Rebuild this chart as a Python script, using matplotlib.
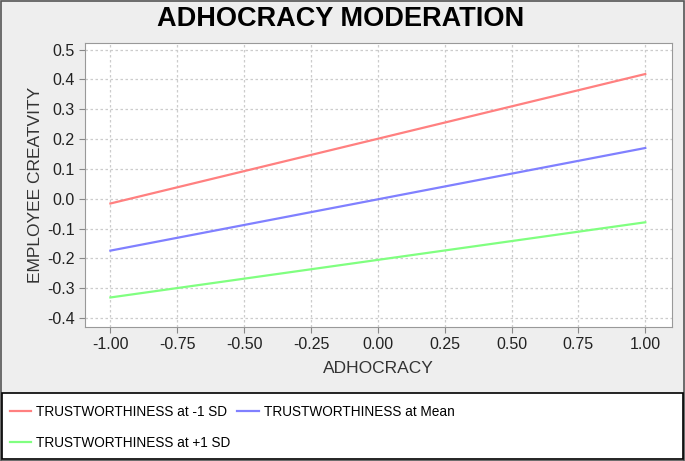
import matplotlib
matplotlib.use('Agg')
import matplotlib.pyplot as plt
from matplotlib.patches import Rectangle

plt.rcParams['font.family'] = ['Liberation Sans', 'DejaVu Sans']

# data
adhocracy = [-1.0, 1.0]
trust_low = [-0.016, 0.418]
trust_mean = [-0.174, 0.170]
trust_high = [-0.331, -0.079]
series_names = ['TRUSTWORTHINESS at -1 SD', 'TRUSTWORTHINESS at Mean',
                'TRUSTWORTHINESS at +1 SD']
series_colors = ['#FF8080', '#8080FF', '#80FF80']
x_ticks = [-1.0, -0.75, -0.5, -0.25, 0.0, 0.25, 0.5, 0.75, 1.0]
y_ticks = [-0.4, -0.3, -0.2, -0.1, 0.0, 0.1, 0.2, 0.3, 0.4, 0.5]

W, H = 685, 461
fig = plt.figure(figsize=(W / 100, H / 100), dpi=100, facecolor='#EEEEEE')

# outer frame and legend box
fig.patches.append(Rectangle((0.5 / W, 0.5 / H), 1 - 1.5 / W, 1 - 1.5 / H,
                             transform=fig.transFigure, fill=False,
                             edgecolor='#555555', linewidth=1.2))
fig.patches.append(Rectangle((2 / W, 1 - 459 / H), 681 / W, 66 / H,
                             transform=fig.transFigure, facecolor='white',
                             edgecolor='black', linewidth=1.2))

ax = fig.add_axes([85 / W, 1 - 327 / H, 587 / W, 284 / H])
ax.set_facecolor('white')

for ys, name, col in zip([trust_low, trust_mean, trust_high], series_names, series_colors):
    ax.plot(adhocracy, ys, color=col, linewidth=1.6, label=name)

ax.set_xlim(-1.095, 1.10)
ax.set_ylim(-0.43, 0.522)
ax.set_xticks(x_ticks)
ax.set_xticklabels([f'{v:.2f}' for v in x_ticks])
ax.set_yticks(y_ticks)
ax.set_yticklabels([f'{v:.1f}' for v in y_ticks])
ax.grid(True, color='#CCCCCC', linestyle=(0, (2, 2)), linewidth=0.9)
for s in ax.spines.values():
    s.set_color('#999999')
ax.tick_params(colors='#888888', labelcolor='#222222', labelsize=11.5, length=4)

ax.set_xlabel('ADHOCRACY', fontsize=12.5, color='#333333', labelpad=6)
ax.set_ylabel('EMPLOYEE CREATVITY', fontsize=12.5, color='#333333', labelpad=3)

fig.text(0.497, 1 - 19 / H, 'ADHOCRACY MODERATION', ha='center', va='center',
         fontsize=19.5, fontweight='bold', color='black')

h, l = ax.get_legend_handles_labels()
order = [0, 2, 1]
fig.legend([h[i] for i in order], [l[i] for i in order], ncol=2,
           loc='upper left', bbox_to_anchor=(-2 / W, 1 - 393 / H),
           frameon=False, fontsize=9.8, handlelength=1.6, handletextpad=0.35,
           columnspacing=0.5, labelspacing=1.25, borderpad=0.35)

fig.savefig('out.png', dpi=100, facecolor=fig.get_facecolor())
